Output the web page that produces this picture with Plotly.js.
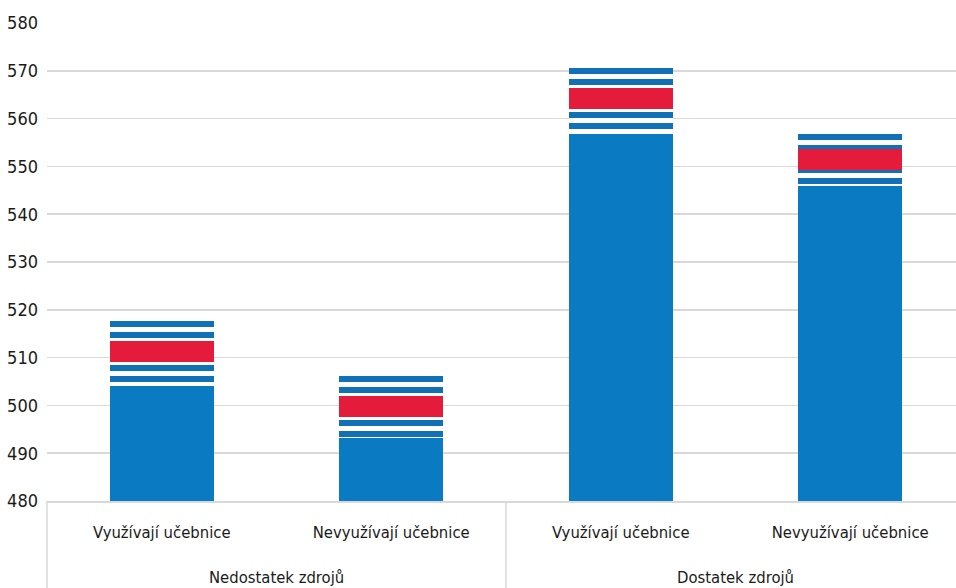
<!DOCTYPE html>
<html>
<head>
<meta charset="utf-8">
<script src="https://cdn.plot.ly/plotly-3.0.1.min.js"></script>
<style>html,body{margin:0;padding:0;background:#fff}#chart{width:956px;height:588px}</style>
</head>
<body>
<div id="chart"></div>
<script>
// Category labels
const groups = ["Nedostatek zdrojů", "Nedostatek zdrojů", "Dostatek zdrojů", "Dostatek zdrojů"];
const subs = ["Využívají učebnice", "Nevyužívají učebnice", "Využívají učebnice", "Nevyužívají učebnice"];

// Segment boundaries (score values)
const baseTop       = [504.06, 493.18, 556.78, 545.90];
const stripe1Bottom = [504.90, 493.39, 557.82, 546.32];
const stripe1Top    = [506.15, 494.64, 559.08, 547.57];
const stripe2Bottom = [507.20, 495.69, 560.13, 548.62];
const stripe2Top    = [508.45, 496.95, 561.38, 549.25];
const redBottom     = [509.08, 497.57, 562.01, 549.25];
const redTop        = [513.47, 501.97, 566.40, 553.64];
const stripe3Bottom = [514.10, 502.59, 567.03, 553.64];
const stripe3Top    = [515.36, 503.85, 568.28, 554.48];
const stripe4Bottom = [516.40, 504.90, 569.33, 555.52];
const stripe4Top    = [517.66, 506.15, 570.59, 556.78];

const yTicks = [480, 490, 500, 510, 520, 530, 540, 550, 560, 570, 580];

const BLUE = "#0a7bc2", STRIPE = "#1171b7", RED = "#e51b3b", WHITE = "#ffffff";
const GRID = "#d9d9d9";
const FONT = "Liberation Sans Narrow, DejaVu Sans Condensed, Arial Narrow, sans-serif";

const layers = [
  [null, baseTop, BLUE],
  [baseTop, stripe1Bottom, WHITE],
  [stripe1Bottom, stripe1Top, STRIPE],
  [stripe1Top, stripe2Bottom, WHITE],
  [stripe2Bottom, stripe2Top, STRIPE],
  [stripe2Top, redBottom, WHITE],
  [redBottom, redTop, RED],
  [redTop, stripe3Bottom, WHITE],
  [stripe3Bottom, stripe3Top, STRIPE],
  [stripe3Top, stripe4Bottom, WHITE],
  [stripe4Bottom, stripe4Top, STRIPE]
];

// unique category ids (group + sub), shown with the sub label only
const ids = subs.map((s, i) => groups[i] + " | " + s);

const traces = layers.map(([lo, hi, col]) => ({
  type: "bar",
  x: ids,
  y: hi.map((v, i) => lo ? v - lo[i] : v),
  marker: {color: col, line: {width: 0}},
  hoverinfo: "skip",
  showlegend: false
}));

const xRange = [-0.5, 3.461];
const xFrac = p => (p - xRange[0]) / (xRange[1] - xRange[0]);

// group labels centred under their members, dividers at group edges
const uniqueGroups = [...new Set(groups)];
const annotations = uniqueGroups.map(g => {
  const idx = groups.map((v, i) => v === g ? i : -1).filter(i => i >= 0);
  const mid = idx.reduce((a, b) => a + b, 0) / idx.length;
  return {
    text: g, xref: "paper", yref: "paper",
    x: xFrac(mid), y: -0.161, xanchor: "center", yanchor: "middle",
    showarrow: false, font: {family: FONT, size: 16.5, color: "#1a1a1a"}
  };
});
const dividerPos = [-0.5];
uniqueGroups.forEach(g => {
  const last = groups.lastIndexOf(g);
  if (last < groups.length - 1) dividerPos.push(last + 0.5);
});
const shapes = dividerPos.map(p => ({
  type: "line", xref: "paper", yref: "paper",
  x0: xFrac(p), x1: xFrac(p), y0: 0, y1: -0.2,
  line: {color: GRID, width: 1.5}
}));

const layout = {
  width: 956, height: 588,
  margin: {l: 47, r: 0, t: 23, b: 87},
  paper_bgcolor: "#fff", plot_bgcolor: "#fff",
  barmode: "stack",
  bargap: 0.547,
  font: {family: FONT, color: "#1a1a1a", size: 18},
  xaxis: {
    type: "category",
    range: xRange,
    tickvals: ids, ticktext: subs,
    showline: true, linecolor: GRID, linewidth: 1.5,
    ticks: "",
    ticklabelstandoff: 16,
    tickfont: {family: FONT, size: 16.5, color: "#1a1a1a"},
    showgrid: false, zeroline: false
  },
  yaxis: {
    range: [480, 580],
    tickvals: yTicks,
    ticktext: yTicks.map(String),
    showgrid: true, gridcolor: GRID, gridwidth: 1.5,
    zeroline: false, showline: false, ticks: "",
    ticklabelstandoff: 8,
    tickfont: {family: FONT, size: 18, color: "#1a1a1a"}
  },
  annotations: annotations,
  shapes: shapes
};

Plotly.newPlot("chart", traces, layout, {staticPlot: true, displayModeBar: false});
</script>
</body>
</html>
